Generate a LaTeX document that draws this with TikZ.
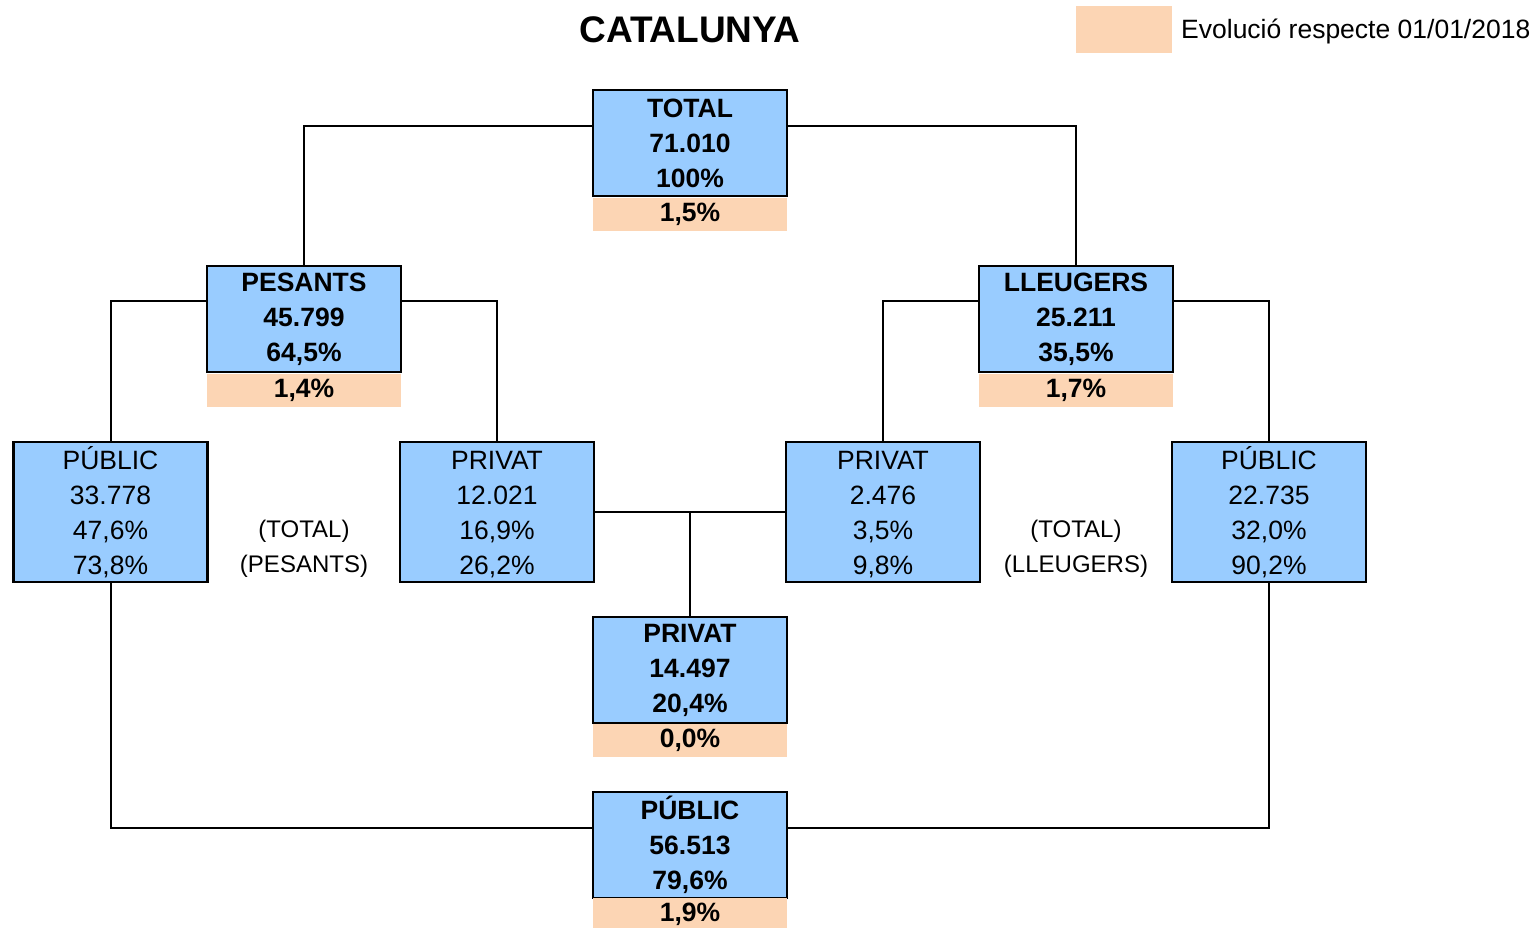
\documentclass[tikz,border=0pt]{standalone}
\usepackage{fontspec}
\setmainfont{Liberation Sans}
\definecolor{boxblue}{HTML}{99CCFF}
\definecolor{peach}{HTML}{FCD5B4}
\begin{document}
\begin{tikzpicture}[x=1pt,y=-1pt,
  bx/.style={draw=black,line width=2.6pt,fill=boxblue,minimum width=194pt,inner sep=0pt,align=center,font=\fontsize{26.5}{35}\selectfont},
  bx3/.style={bx,minimum height=106pt,font=\fontsize{26.5}{35}\selectfont\bfseries},
  bx4/.style={bx,minimum height=140pt},
  ev/.style={fill=peach,minimum width=194pt,minimum height=33pt,inner sep=0pt,font=\fontsize{26.5}{30}\selectfont\bfseries},
  conn/.style={draw=black,line width=2pt},
  lbl/.style={align=center,font=\fontsize{24}{35}\selectfont}]
\useasboundingbox (0,0) rectangle (1532,927);
% title and legend
\node[font=\fontsize{37}{40}\selectfont\bfseries] (title) at (690,30) {CATALUNYA};
\node[fill=peach,minimum width=96pt,minimum height=47pt,inner sep=0pt] (leg) at (1124,29.5) {};
\node[anchor=west,font=\fontsize{26.5}{30}\selectfont,inner sep=0pt] (legt) at (1181,31.5) {Evolució respecte 01/01/2018};
\coordinate (cpriv) at (690,512);
% boxes
\node[bx3] (tot) at (690,143) {TOTAL\\71.010\\100\%};
\node[ev] (totev) at (690,214) {1,5\%};
\node[bx3] (pes) at (304,319) {PESANTS\\45.799\\64,5\%};
\node[ev] (pesev) at (304,390) {1,4\%};
\node[bx3] (lle) at (1076,319) {LLEUGERS\\25.211\\35,5\%};
\node[ev] (lleev) at (1076,390) {1,7\%};
\node[bx4] (pubp) at (110.5,512) {\vphantom{Ú}PÚBLIC\\33.778\\47,6\%\\73,8\%};
\node[bx4] (privp) at (497,512) {\vphantom{Ú}PRIVAT\\12.021\\16,9\%\\26,2\%};
\node[bx4] (privl) at (883,512) {\vphantom{Ú}PRIVAT\\2.476\\3,5\%\\9,8\%};
\node[bx4] (publ) at (1269,512) {\vphantom{Ú}PÚBLIC\\22.735\\32,0\%\\90,2\%};
\node[bx3] (priv) at (690,670) {PRIVAT\\14.497\\20,4\%};
\node[ev] (privev) at (690,740) {0,0\%};
\node[bx3] (pub) at (690,845) {PÚBLIC\\56.513\\79,6\%};
\node[ev] (pubev) at (690,914) {1,9\%};
\node[lbl] (lblp) at (304,549) {(TOTAL)\\(PESANTS)};
\node[lbl] (lbll) at (1076,549) {(TOTAL)\\(LLEUGERS)};
% connectors
\draw[conn] (tot.west) ++(0,-17) coordinate (tw) -| (pes.north);
\draw[conn] (tot.east) ++(0,-17) coordinate (te) -| (lle.north);
\draw[conn] (pes.west) ++(0,-18) coordinate (pw) -| (pubp.north);
\draw[conn] (pes.east) ++(0,-18) coordinate (pe) -| (privp.north);
\draw[conn] (lle.west) ++(0,-18) coordinate (lw) -| (privl.north);
\draw[conn] (lle.east) ++(0,-18) coordinate (le) -| (publ.north);
\draw[conn] (privp.east) -- (privl.west);
\draw[conn] (cpriv) -- (priv.north);
\draw[conn] (pub.west) ++(0,-17) coordinate (bw) -| (pubp.south);
\draw[conn] (pub.east) ++(0,-17) coordinate (be) -| (publ.south);
\end{tikzpicture}
\end{document}
